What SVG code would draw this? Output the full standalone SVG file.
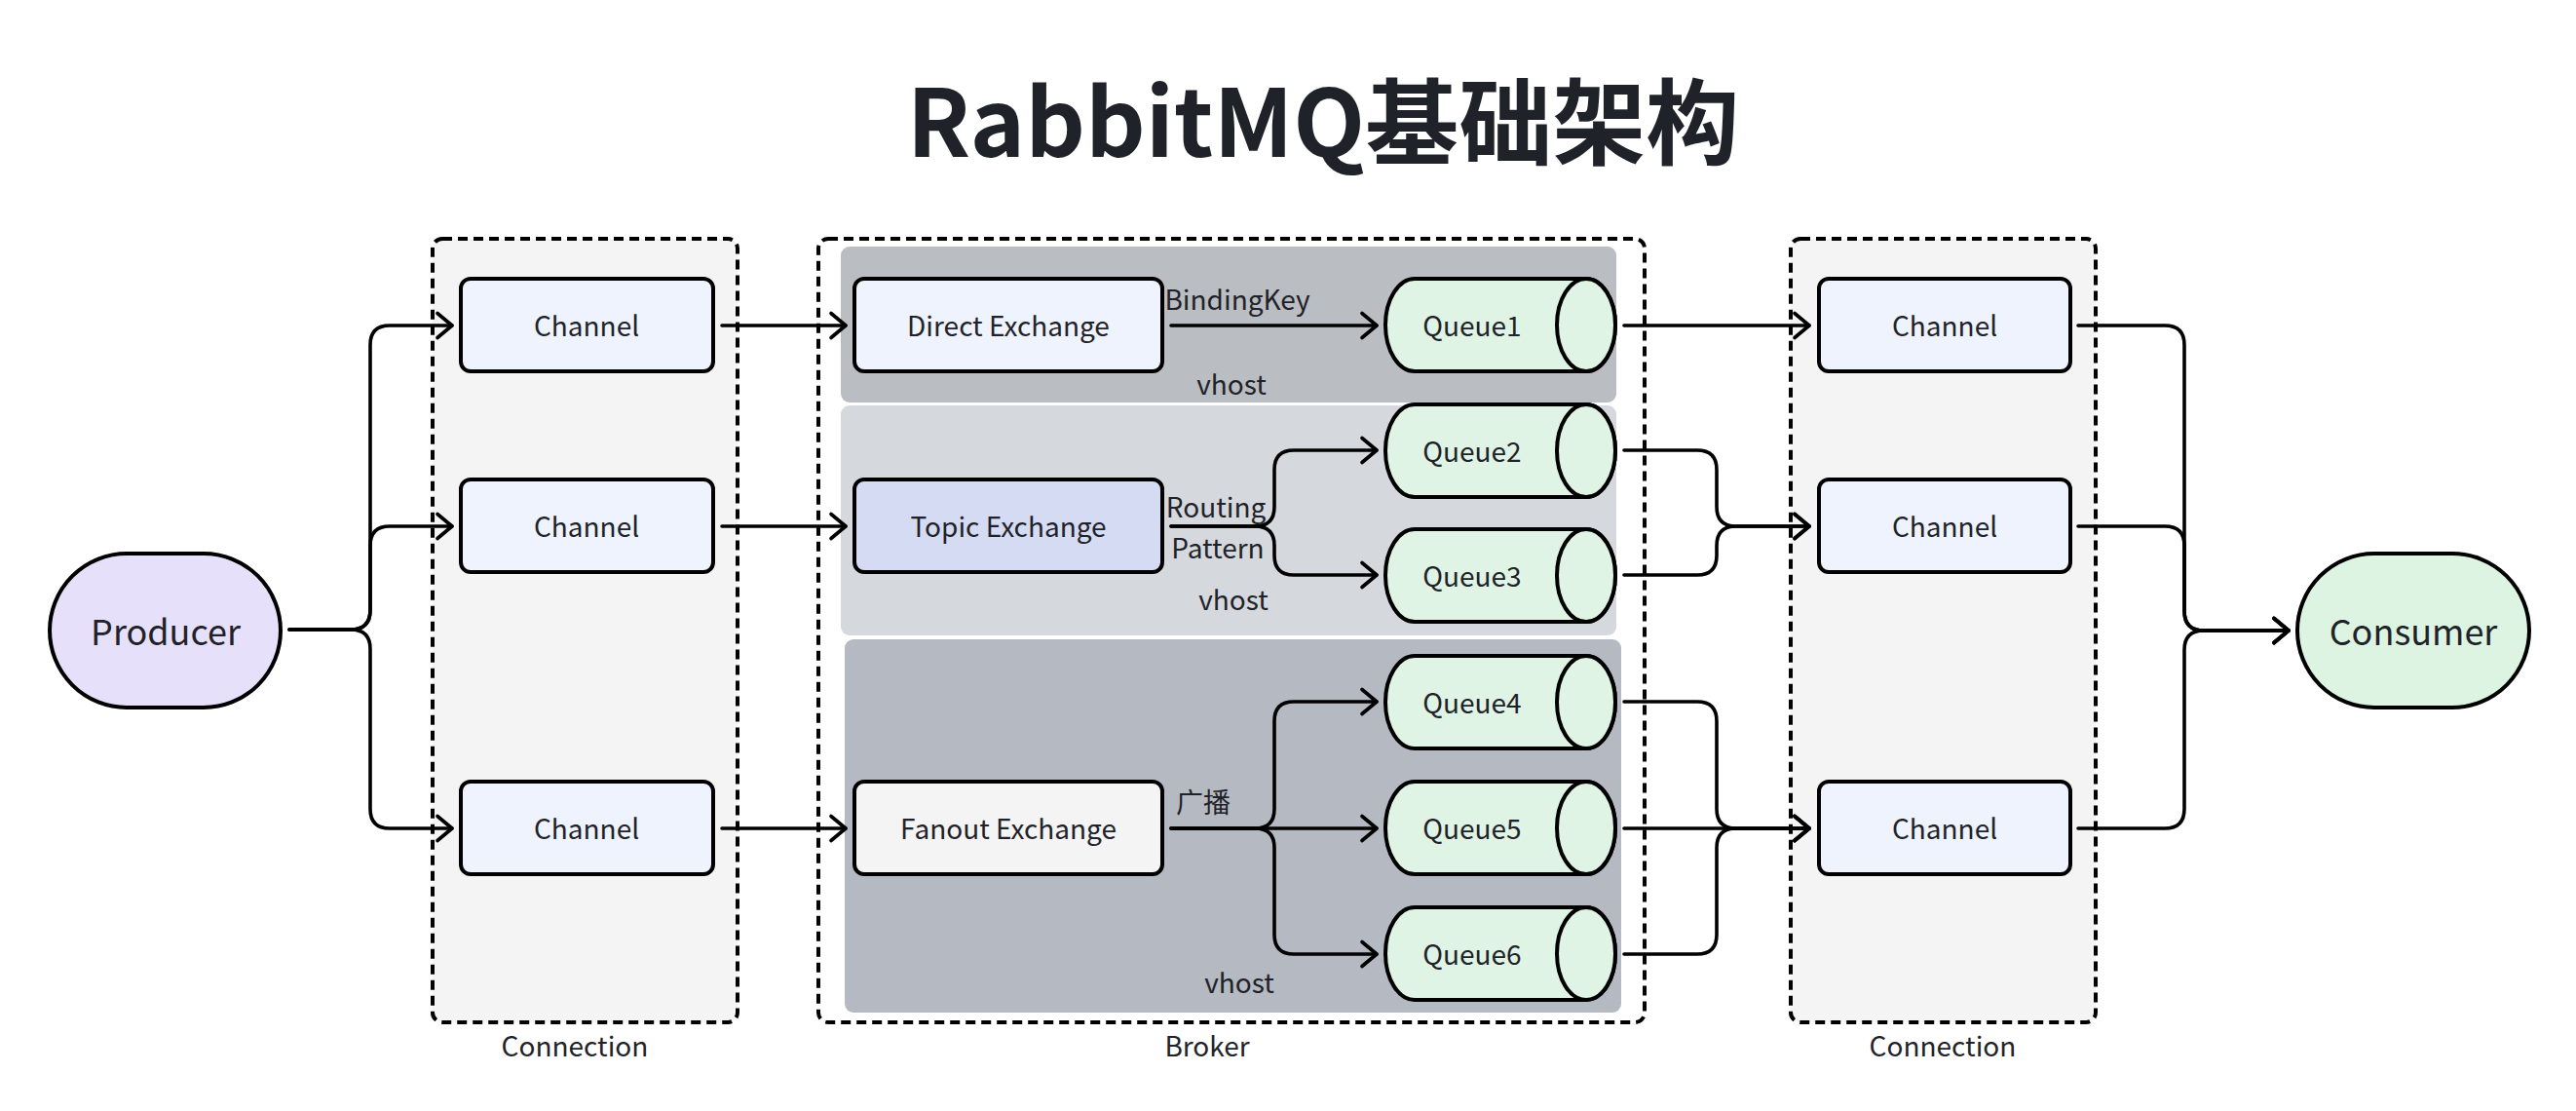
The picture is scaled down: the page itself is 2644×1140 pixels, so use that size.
<svg xmlns="http://www.w3.org/2000/svg" width="2644" height="1140" viewBox="0 0 2644 1140">
<defs>
<style>
text{font-family:"Noto Sans CJK SC","Noto Sans",sans-serif;fill:#1f2329;}
.t28{font-size:28px;text-anchor:middle;}
.t36{font-size:36px;text-anchor:middle;}
.title{font-size:96px;font-weight:bold;text-anchor:middle;}
.dash{fill:#f4f4f4;stroke:#000;stroke-width:4;stroke-dasharray:10 6;}
.broker{fill:#fff;stroke:#000;stroke-width:4;stroke-dasharray:10 6;}
.box{stroke:#000;stroke-width:4;}
.chan{fill:#eef3fd;}
.q{fill:#dff4e4;stroke:#000;stroke-width:4;}
.conn path{fill:none;stroke:#000;stroke-width:3.6;stroke-linecap:round;stroke-linejoin:round;marker-end:url(#arr);}
</style>
<marker id="arr" markerUnits="userSpaceOnUse" markerWidth="24" markerHeight="32" refX="17" refY="15" orient="auto" overflow="visible">
<path d="M2,2.5 L17,15 L2,27.5" fill="none" stroke="#000" stroke-width="3.6" stroke-linecap="round" stroke-linejoin="round"/>
</marker>
</defs>
<rect width="2644" height="1140" fill="#fff"/>
<text class="title" x="1358" y="161">RabbitMQ基础架构</text>

<g id="connection-left">
<rect class="dash" x="444" y="245" width="313" height="804" rx="10"/>
<text class="t28" x="590" y="1084">Connection</text>
</g>
<g id="broker">
<rect class="broker" x="840" y="245" width="848" height="804" rx="10"/>
<text class="t28" x="1239" y="1084">Broker</text>
</g>
<g id="connection-right">
<rect class="dash" x="1838" y="245" width="313" height="804" rx="10"/>
<text class="t28" x="1994" y="1084">Connection</text>
</g>

<g id="vhost1">
<rect x="863" y="253" width="796" height="160" rx="9" fill="#babdc1"/>
<text class="t28" x="1264" y="405">vhost</text>
</g>
<g id="vhost2">
<rect x="863" y="416" width="796" height="236" rx="9" fill="#d5d8dc"/>
<text class="t28" x="1266" y="626">vhost</text>
</g>
<g id="vhost3">
<rect x="867" y="656" width="797" height="383" rx="9" fill="#b5b9c1"/>
<text class="t28" x="1272" y="1019">vhost</text>
</g>

<g id="producer">
<rect class="box" x="51" y="568" width="237" height="158" rx="79" fill="#e7e0fb"/>
<text class="t36" x="170" y="662">Producer</text>
</g>
<g id="consumer">
<rect class="box" x="2358" y="568" width="238" height="158" rx="79" fill="#ddf4e3"/>
<text class="t36" x="2477" y="662">Consumer</text>
</g>

<g id="channel-l1"><rect class="box chan" x="473" y="286" width="259" height="95" rx="10"/><text class="t28" x="602" y="345">Channel</text></g>
<g id="channel-l2"><rect class="box chan" x="473" y="492" width="259" height="95" rx="10"/><text class="t28" x="602" y="551">Channel</text></g>
<g id="channel-l3"><rect class="box chan" x="473" y="802" width="259" height="95" rx="10"/><text class="t28" x="602" y="861">Channel</text></g>

<g id="channel-r1"><rect class="box chan" x="1867" y="286" width="258" height="95" rx="10"/><text class="t28" x="1996" y="345">Channel</text></g>
<g id="channel-r2"><rect class="box chan" x="1867" y="492" width="258" height="95" rx="10"/><text class="t28" x="1996" y="551">Channel</text></g>
<g id="channel-r3"><rect class="box chan" x="1867" y="802" width="258" height="95" rx="10"/><text class="t28" x="1996" y="861">Channel</text></g>

<g id="direct-exchange"><rect class="box" x="877" y="286" width="316" height="95" rx="10" fill="#eef3fd"/><text class="t28" x="1035" y="345">Direct Exchange</text></g>
<g id="topic-exchange"><rect class="box" x="877" y="492" width="316" height="95" rx="10" fill="#d6dbf4"/><text class="t28" x="1035" y="551">Topic Exchange</text></g>
<g id="fanout-exchange"><rect class="box" x="877" y="802" width="316" height="95" rx="10" fill="#f4f4f4"/><text class="t28" x="1035" y="861">Fanout Exchange</text></g>

<g id="queue1"><path class="q" d="M1452,286 H1628 A30,47.5 0 0 1 1628,381 H1452 A30,47.5 0 0 1 1452,286 Z"/><ellipse class="q" cx="1628" cy="333.5" rx="30" ry="47.5"/><text class="t28" x="1511" y="345">Queue1</text></g>
<g id="queue2"><path class="q" d="M1452,415 H1628 A30,47.5 0 0 1 1628,510 H1452 A30,47.5 0 0 1 1452,415 Z"/><ellipse class="q" cx="1628" cy="462.5" rx="30" ry="47.5"/><text class="t28" x="1511" y="474">Queue2</text></g>
<g id="queue3"><path class="q" d="M1452,543 H1628 A30,47.5 0 0 1 1628,638 H1452 A30,47.5 0 0 1 1452,543 Z"/><ellipse class="q" cx="1628" cy="590.5" rx="30" ry="47.5"/><text class="t28" x="1511" y="602">Queue3</text></g>
<g id="queue4"><path class="q" d="M1452,673 H1628 A30,47.5 0 0 1 1628,768 H1452 A30,47.5 0 0 1 1452,673 Z"/><ellipse class="q" cx="1628" cy="720.5" rx="30" ry="47.5"/><text class="t28" x="1511" y="732">Queue4</text></g>
<g id="queue5"><path class="q" d="M1452,802 H1628 A30,47.5 0 0 1 1628,897 H1452 A30,47.5 0 0 1 1452,802 Z"/><ellipse class="q" cx="1628" cy="849.5" rx="30" ry="47.5"/><text class="t28" x="1511" y="861">Queue5</text></g>
<g id="queue6"><path class="q" d="M1452,931 H1628 A30,47.5 0 0 1 1628,1026 H1452 A30,47.5 0 0 1 1452,931 Z"/><ellipse class="q" cx="1628" cy="978.5" rx="30" ry="47.5"/><text class="t28" x="1511" y="990">Queue6</text></g>

<g id="connectors" class="conn">
<path d="M297,646 H360 Q380,646 380,626 V354 Q380,334 400,334 H464"/>
<path d="M297,646 H360 Q380,646 380,626 V560 Q380,540 400,540 H464"/>
<path d="M297,646 H360 Q380,646 380,666 V830 Q380,850 400,850 H464"/>
<path d="M741,334 H868"/>
<path d="M741,540 H868"/>
<path d="M741,850 H868"/>
<path d="M1202,334 H1413"/>
<path d="M1202,540 H1288 Q1308,540 1308,520 V482 Q1308,462 1328,462 H1413"/>
<path d="M1202,540 H1288 Q1308,540 1308,560 V570 Q1308,590 1328,590 H1413"/>
<path d="M1202,850 H1413"/>
<path d="M1202,850 H1288 Q1308,850 1308,830 V740 Q1308,720 1328,720 H1413"/>
<path d="M1202,850 H1288 Q1308,850 1308,870 V959 Q1308,979 1328,979 H1413"/>
<path d="M1667,334 H1857"/>
<path d="M1667,462 H1742 Q1762,462 1762,482 V520 Q1762,540 1782,540 H1857"/>
<path d="M1667,590 H1742 Q1762,590 1762,570 V560 Q1762,540 1782,540 H1857"/>
<path d="M1667,720 H1742 Q1762,720 1762,740 V830 Q1762,850 1782,850 H1857"/>
<path d="M1667,850 H1857"/>
<path d="M1667,979 H1742 Q1762,979 1762,959 V870 Q1762,850 1782,850 H1857"/>
<path d="M2133,334 H2222 Q2242,334 2242,354 V627 Q2242,647 2262,647 H2349"/>
<path d="M2133,540 H2222 Q2242,540 2242,560 V627 Q2242,647 2262,647 H2349"/>
<path d="M2133,850 H2222 Q2242,850 2242,830 V667 Q2242,647 2262,647 H2349"/>
</g>
<g id="edge-labels">
<text class="t28" x="1270" y="318">BindingKey</text>
<text class="t28" x="1248" y="531">Routing</text>
<text class="t28" x="1250" y="573">Pattern</text>
<text class="t28" x="1235" y="834">广播</text>
</g>
</svg>
